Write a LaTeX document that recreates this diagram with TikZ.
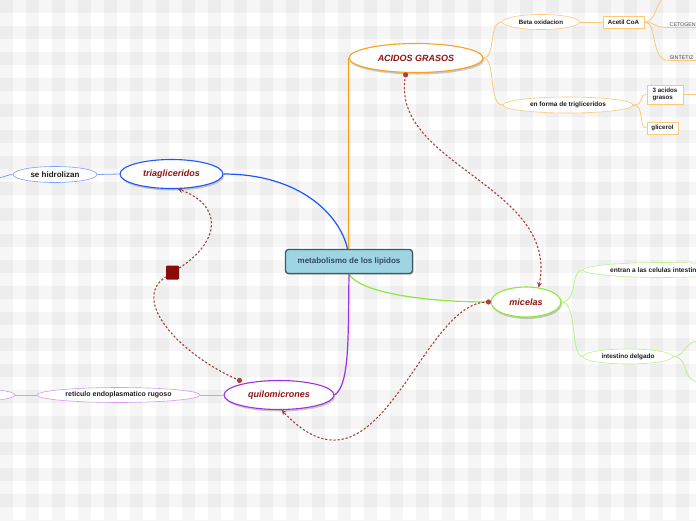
\documentclass[tikz,border=0pt]{standalone}
\usepackage{fontspec}
\setmainfont{Liberation Sans}
\usetikzlibrary{shapes.geometric,shadows,arrows.meta}
\definecolor{orM}{HTML}{F7A21B}
\definecolor{orL}{HTML}{FCC977}
\definecolor{blM}{HTML}{1F55FF}
\definecolor{blL}{HTML}{7E9DFF}
\definecolor{grM}{HTML}{8BEA3A}
\definecolor{grL}{HTML}{BDF28A}
\definecolor{puM}{HTML}{A030E8}
\definecolor{puL}{HTML}{D59AF2}
\definecolor{dred}{HTML}{8E1414}
\definecolor{relc}{HTML}{A8403C}
\definecolor{sqc}{HTML}{8B0A0A}
\definecolor{cfill}{HTML}{9FD5E2}
\definecolor{cbord}{HTML}{3F5866}
\definecolor{ctext}{HTML}{34495A}
\definecolor{subtx}{HTML}{1E1E1E}
\pgfdeclarelayer{bg}
\pgfsetlayers{bg,main}
\begin{document}
\begin{tikzpicture}[x=1pt,y=-1pt,
 mainnode/.style={ellipse, draw, line width=1.1pt, fill=white, inner sep=0pt,
   drop shadow={shadow xshift=1pt, shadow yshift=-2pt, fill=black!45, opacity=0.45},
   font=\fontsize{9}{10}\selectfont\bfseries\itshape, text=dred},
 subell/.style={ellipse, draw, line width=0.6pt, fill=white, inner sep=0pt,
   font=\fontsize{6.2}{7}\selectfont\bfseries, text=subtx},
 subbox/.style={rectangle, draw, line width=0.8pt, fill=white, inner sep=0pt,
   font=\fontsize{6.2}{7}\selectfont\bfseries, text=subtx},
 plaintx/.style={inner sep=1pt, font=\fontsize{5.3}{6}\selectfont, text=black!70},
 mainline/.style={line width=1.2pt},
 subline/.style={line width=0.8pt},
 rel/.style={draw=relc, line width=1.1pt, dash pattern=on 2.2pt off 1.9pt},
 relarrow/.style={-{Stealth[length=5pt,width=5pt]}},
]
\useasboundingbox (0,0) rectangle (696,520);
\clip (0,0) rectangle (696,520);
\begin{pgfonlayer}{bg}
\fill[white] (0,0) rectangle (696,520);
\foreach \i in {0,2,...,54} \fill[black, fill opacity=0.035] (\i*13,0) rectangle ++(13,520);
\foreach \j in {0,2,...,40} \fill[black, fill opacity=0.035] (0,\j*13) rectangle ++(696,13);
\end{pgfonlayer}

% main nodes
\node[rectangle, rounded corners=3pt, draw=cbord, line width=1.3pt, fill=cfill,
  minimum width=127, minimum height=24, inner sep=0pt,
  font=\fontsize{8}{9}\selectfont\bfseries, text=ctext,
  drop shadow={shadow xshift=1pt, shadow yshift=-1.5pt, fill=black!40, opacity=0.4}]
  (center) at (349,261.5) {metabolismo de los lipidos};
\node[mainnode, draw=orM, minimum width=134, minimum height=29] (acidos) at (416,58) {ACIDOS GRASOS};
\node[mainnode, draw=blM, minimum width=103, minimum height=29] (trig) at (171.5,174) {triagliceridos};
\node[mainnode, draw=grM, minimum width=70, minimum height=30] (micelas) at (526,302) {micelas};
\node[mainnode, draw=puM, minimum width=110, minimum height=29] (quilo) at (279,395) {quilomicrones};

% sub nodes
\node[subell, draw=orL, minimum width=77, minimum height=15] (beta) at (541,22) {Beta oxidacion};
\node[subbox, draw=orL, minimum width=41, minimum height=12] (acetil) at (623.5,22) {Acetil CoA};
\node[plaintx, anchor=south west] (ceto) at (668.5,27.5) {CETOGEN};
\node[plaintx, anchor=south west] (sint) at (668.5,60.5) {SINTETIZ};
\node[subell, draw=orL, minimum width=130, minimum height=16, font=\fontsize{6.5}{7}\selectfont\bfseries] (forma) at (568,105) {en forma de trigliceridos};
\node[subbox, draw=orL, minimum width=36, minimum height=19, align=left] (tres) at (665,94.5) {3 acidos\\grasos};
\node[subbox, draw=orL, minimum width=31, minimum height=12] (glic) at (662.5,128) {glicerol};
\node[subell, draw=blL, minimum width=84, minimum height=16, font=\fontsize{8}{9}\selectfont\bfseries] (hidro) at (55,174.5) {se hidrolizan};
\node[subell, draw=grL, minimum width=160, minimum height=15] (entran) at (663,270) {};
\node[inner sep=0pt, anchor=west, font=\fontsize{6.6}{7}\selectfont\bfseries, text=subtx] (entrantx) at (610,270) {entran a las celulas intestin};
\node[subell, draw=grL, minimum width=90, minimum height=15, font=\fontsize{6.4}{7}\selectfont\bfseries] (intest) at (628,356.5) {intestino delgado};
\node[subell, draw=puL, minimum width=163, minimum height=15, font=\fontsize{7}{8}\selectfont\bfseries] (retic) at (118.5,395) {reticulo endoplasmatico rugoso};
\node[subell, draw=puL, minimum width=110, minimum height=14] (leftp) at (-40,395) {};

% free ends
\coordinate (ctop) at (663,-2);
\coordinate (cetoR) at (700,27.5);
\coordinate (sintR) at (700,60.5);
\coordinate (tresR) at (700,94.5);
\coordinate (hidroL) at (-2,178);
\coordinate (iu) at (700,341);
\coordinate (id) at (700,382);

\begin{pgfonlayer}{bg}
% main connectors
\draw[orM, mainline] ([xshift=-0.5pt]center.north) -- (acidos.west);
\draw[blM, mainline] ([xshift=-1.5pt]center.north) .. controls (340,215) and (300,174) .. (trig.east);
\draw[grM, mainline] (center.south) .. controls (360,292) and (420,302) .. (micelas.west);
\draw[puM, mainline] (center.south) .. controls (348,335) and (350,385) .. (quilo.east);
% orange sub
\draw[orL, subline] (acidos.east) .. controls (496,58) and (488,22) .. (beta.west);
\draw[orL, subline] (acidos.east) .. controls (496,58) and (488,105) .. (forma.west);
\draw[orL, subline] (beta.east) -- (acetil.west);
\draw[orL, subline] (acetil.east) .. controls (656,22) and (655,5) .. (ctop);
\draw[orL, subline] (acetil.east) .. controls (656,22) and (652,27.5) .. (ceto.south west) -- (cetoR);
\draw[orL, subline] (acetil.east) .. controls (658,22) and (650,60.5) .. (sint.south west) -- (sintR);
\draw[orL, subline] (forma.east) .. controls (645,105) and (638,94.5) .. (tres.west);
\draw[orL, subline] (forma.east) .. controls (645,105) and (638,128) .. (glic.west);
\draw[orL, subline] (tres.east) -- (tresR);
% blue sub
\draw[blL, subline] (trig.west) -- (hidro.east);
\draw[blL, subline] (hidro.west) .. controls (8,174.5) and (5,177) .. (hidroL);
% green sub
\draw[grL, subline] (micelas.east) .. controls (578,302) and (570,270) .. (entran.west);
\draw[grL, subline] (micelas.east) .. controls (578,302) and (570,356.5) .. (intest.west);
\draw[grL, subline] (intest.east) .. controls (686,356.5) and (683,341) .. (iu);
\draw[grL, subline] (intest.east) .. controls (690,356.5) and (680,382) .. (id);
% purple sub
\draw[puL, subline] (quilo.west) -- (retic.east);
\draw[puL, subline] (retic.west) -- (leftp.east);
\end{pgfonlayer}

% relationships
\coordinate (r1s) at ([yshift=-2pt]acidos.235);
\draw[rel, relarrow] (r1s) .. controls (388,165) and (560,185) .. (micelas.49);
\fill[relc] (r1s) circle (2.6pt);

\node[rectangle, fill=sqc, rounded corners=1pt, minimum width=13, minimum height=14, inner sep=0pt] (sq) at (172.5,272.5) {};
\coordinate (r2s) at ([yshift=4pt]quilo.165);
\draw[rel] (r2s) .. controls (180,355) and (130,300) .. (sq);
\draw[rel, relarrow] (sq) .. controls (222,240) and (222,205) .. (trig.-67);
\fill[relc] (r2s) circle (2.6pt);

\coordinate (r3s) at ([xshift=-2pt]micelas.west);
\draw[rel, relarrow] (r3s) .. controls (420,300) and (380,515) .. (quilo.-80);
\fill[relc] (r3s) circle (2.6pt);
\end{tikzpicture}
\end{document}
